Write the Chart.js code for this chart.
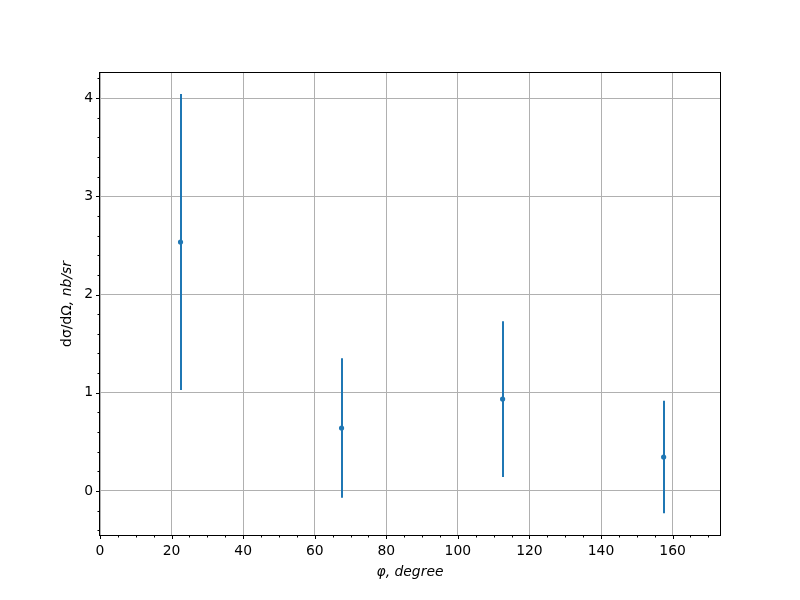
<!DOCTYPE html>
<html>
<head>
<meta charset="utf-8">
<script src="https://cdn.jsdelivr.net/npm/chart.js@4/dist/chart.umd.min.js"></script>
<style>
html,body{margin:0;padding:0;background:#fff;}
#wrap{width:800px;height:600px;}
</style>
</head>
<body>
<div id="wrap"><canvas id="c" width="800" height="600"></canvas></div>
<script>
// ---- data ----
const phiDeg = [22.5, 67.5, 112.5, 157.5];
const crossSection = [2.534, 0.641, 0.936, 0.346];
const crossSectionErr = [1.507, 0.711, 0.793, 0.573];
const xMajorTicks = [0, 20, 40, 60, 80, 100, 120, 140, 160];
const yMajorTicks = [0, 1, 2, 3, 4];
const xTitle = 'φ, degree';
const yTitleUpright = 'dσ/dΩ';
const yTitleItalic = ', nb/sr';

const X_MIN = 0, X_MAX = 173.25, Y_MIN = -0.448, Y_MAX = 4.255;
const COLOR = '#1f77b4';
const FONT = '"DejaVu Sans", sans-serif';

function buildTicks(major, minorStep, min, max) {
  const out = [];
  const n0 = Math.ceil(min / minorStep - 1e-9), n1 = Math.floor(max / minorStep + 1e-9);
  for (let i = n0; i <= n1; i++) {
    const v = Math.round(i * minorStep * 1000) / 1000;
    out.push({ value: v, major: major.some(m => Math.abs(m - v) < 1e-9) });
  }
  return out;
}

const errorBarPlugin = {
  id: 'errorBars',
  beforeDatasetsDraw(chart) {
    const ctx = chart.ctx, xs = chart.scales.x, ys = chart.scales.y;
    ctx.save();
    ctx.beginPath();
    ctx.rect(chart.chartArea.left, chart.chartArea.top, chart.chartArea.right - chart.chartArea.left, chart.chartArea.bottom - chart.chartArea.top);
    ctx.clip();
    ctx.strokeStyle = COLOR;
    ctx.lineWidth = 2;
    for (let i = 0; i < phiDeg.length; i++) {
      const px = Math.round(xs.getPixelForValue(phiDeg[i]));
      ctx.beginPath();
      ctx.moveTo(px, ys.getPixelForValue(crossSection[i] - crossSectionErr[i]));
      ctx.lineTo(px, ys.getPixelForValue(crossSection[i] + crossSectionErr[i]));
      ctx.stroke();
    }
    ctx.restore();
  }
};

const framePlugin = {
  id: 'frame',
  afterDraw(chart) {
    const ctx = chart.ctx, a = chart.chartArea;
    ctx.save();
    ctx.strokeStyle = '#000';
    ctx.lineWidth = 1;
    ctx.strokeRect(Math.round(a.left) - 0.5, Math.round(a.top) - 0.5, Math.round(a.right - a.left) + 1, Math.round(a.bottom - a.top) + 1);
    const xs = chart.scales.x, ys = chart.scales.y;
    ctx.beginPath();
    xs.ticks.forEach(t => {
      const p = Math.round(xs.getPixelForValue(t.value)) + 0.5;
      const len = t.major ? 3.5 : 2;
      ctx.moveTo(p, a.bottom + 0.5);
      ctx.lineTo(p, a.bottom + 0.5 + len);
    });
    ys.ticks.forEach(t => {
      const p = Math.round(ys.getPixelForValue(t.value)) + 0.5;
      const len = t.major ? 3.5 : 2;
      ctx.moveTo(a.left - 0.5, p);
      ctx.lineTo(a.left - 0.5 - len, p);
    });
    ctx.stroke();
    // y title with mixed upright / italic text
    ctx.fillStyle = '#000';
    ctx.translate(67, (a.top + a.bottom) / 2);
    ctx.rotate(-Math.PI / 2);
    ctx.textBaseline = 'middle';
    ctx.font = '13.9px ' + FONT;
    const w1 = ctx.measureText(yTitleUpright).width;
    ctx.font = 'italic 13.9px ' + FONT;
    const w2 = ctx.measureText(yTitleItalic).width;
    const x0 = -(w1 + w2) / 2;
    ctx.font = '13.9px ' + FONT;
    ctx.textAlign = 'left';
    ctx.fillText(yTitleUpright, x0, 0);
    ctx.font = 'italic 13.9px ' + FONT;
    ctx.fillText(yTitleItalic, x0 + w1, 0);
    ctx.restore();
  }
};

new Chart(document.getElementById('c'), {
  type: 'scatter',
  data: {
    datasets: [{
      data: phiDeg.map((x, i) => ({ x: x, y: crossSection[i] })),
      backgroundColor: COLOR,
      borderColor: COLOR,
      pointRadius: 2.6,
      pointBorderWidth: 0,
      pointHoverRadius: 2.6
    }]
  },
  options: {
    responsive: false,
    animation: false,
    events: [],
    layout: { padding: { left: 0, top: 73, right: 80, bottom: 0 } },
    plugins: { legend: { display: false }, tooltip: { enabled: false } },
    scales: {
      x: {
        type: 'linear',
        min: X_MIN, max: X_MAX,
        afterBuildTicks: s => { s.ticks = buildTicks(xMajorTicks, 5, X_MIN, X_MAX); },
        afterFit: s => { s.height = 65; },
        border: { display: false },
        grid: {
          drawTicks: false,
          color: c => (c.tick && c.tick.major) ? '#b0b0b0' : 'rgba(0,0,0,0)',
          lineWidth: 1
        },
        ticks: {
          autoSkip: false, maxRotation: 0, padding: 8,
          color: '#000',
          font: { family: FONT, size: 13.9 },
          callback: (v, i, ticks) => ticks[i].major ? String(v) : ''
        },
        title: {
          display: true, text: xTitle, color: '#000',
          font: { family: FONT, size: 13.9, style: 'italic' },
          padding: { top: 2, bottom: 19 }
        }
      },
      y: {
        type: 'linear',
        min: Y_MIN, max: Y_MAX,
        afterBuildTicks: s => { s.ticks = buildTicks(yMajorTicks, 0.2, Y_MIN, Y_MAX); },
        afterFit: s => { s.width = 100; },
        border: { display: false },
        grid: {
          drawTicks: false,
          color: c => (c.tick && c.tick.major) ? '#b0b0b0' : 'rgba(0,0,0,0)',
          lineWidth: 1
        },
        ticks: {
          autoSkip: false, padding: 7,
          color: '#000',
          font: { family: FONT, size: 13.9 },
          callback: (v, i, ticks) => ticks[i].major ? String(Math.round(v)) : ''
        }
      }
    }
  },
  plugins: [errorBarPlugin, framePlugin]
});
</script>
</body>
</html>
